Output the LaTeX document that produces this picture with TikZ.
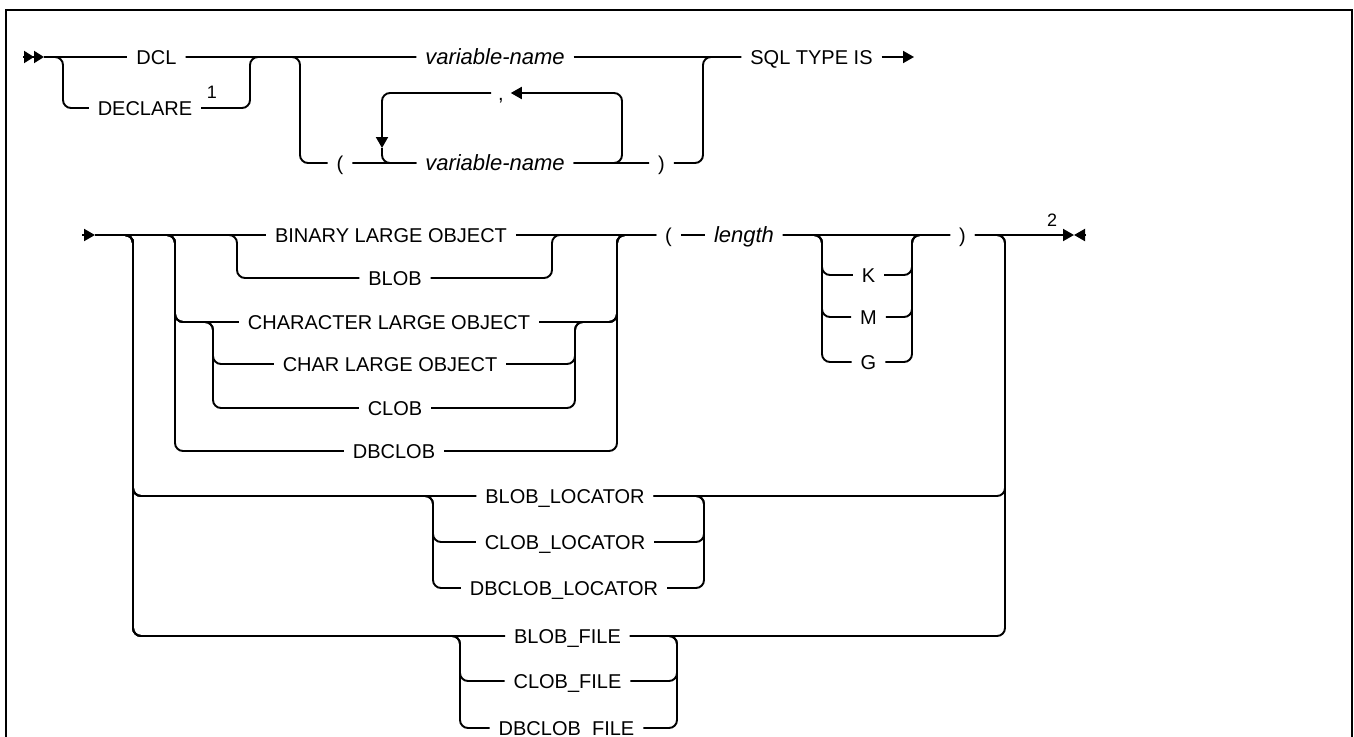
\documentclass[tikz,border=0pt]{standalone}
\usepackage{fontspec}
\setmainfont{Liberation Sans}
\usetikzlibrary{arrows.meta}

\begin{document}
\begin{tikzpicture}[x=1pt, y=-1pt,
    kw/.style={inner sep=0pt, outer xsep=9pt, outer ysep=0pt, text height=14.3pt, text depth=0pt, font=\fontsize{20}{24}\selectfont},
    var/.style={kw, font=\fontsize{22}{26}\selectfont\itshape},
    note/.style={inner sep=0pt, font=\fontsize{18}{20}\selectfont},
    rail/.style={line width=1.9pt, rounded corners=8pt},
    tip/.style={-{Triangle[length=11pt,width=12pt]}},
    tiptwo/.style={-{Triangle[length=10pt,width=12pt]Triangle[length=10pt,width=12pt]}}
]
\useasboundingbox (0,0) rectangle (1354,736);
\clip (0,0) rectangle (1354,736);
\draw[line width=2.2pt] (6,10) rectangle (1352,780);

% first line
\coordinate (s0) at (23,57);
\coordinate (s1) at (44,57);
\coordinate (e1) at (914,57);
\coordinate (ldn) at (382,148);
\node[kw]  (dcl)     at (156.5,57) {DCL};
\node[kw]  (declare) at (145,108)  {DECLARE};
\node[note] (fn1)    at (212,92)   {1};
\node[var] (var1)    at (495,57)   {variable-name};
\node[kw]  (lp1)     at (340,163)  {(};
\node[var] (var2)    at (495,163)  {variable-name};
\node[kw, outer xsep=7pt] (comma) at (501,93) {,};
\node[kw]  (rp1)     at (661.5,163) {)};
\node[kw]  (sql)     at (811.5,57) {SQL TYPE IS};

\draw[rail,tiptwo] (s0) -- (s1);
\draw[rail] (s1) -- (dcl) -- (var1) -- (sql);
\draw[rail] (s1) -| (63,108) -- (declare);
\draw[rail] (declare) -| (250,57) -- (var1);
\draw[rail] (dcl) -| (300,163) -- (lp1) -- (var2);
\draw[rail,tip] (var2) -| (622,93) -- (comma);
\draw[rail,tip] (comma) -| (ldn);
\draw[rail] (ldn) |- (var2);
\draw[rail] (var2) -- (rp1) -| (703,57) -- (sql);
\draw[rail,tip] (sql) -- (e1);

% second line
\coordinate (t0) at (82,235);
\coordinate (t1) at (95,235);
\coordinate (e2) at (1074,235);
\coordinate (e3) at (1086,235);
\node[kw]  (binary)    at (391,235) {BINARY LARGE OBJECT};
\node[kw]  (blob)      at (395,278) {BLOB};
\node[kw]  (charlob)   at (389,322) {CHARACTER LARGE OBJECT};
\node[kw]  (charlarge) at (390,364) {CHAR LARGE OBJECT};
\node[kw]  (clob)      at (395,408) {CLOB};
\node[kw]  (dbclob)    at (394,451) {DBCLOB};
\node[kw]  (lp2)       at (668.5,235) {(};
\node[var] (len)       at (744,235) {length};
\node[kw]  (rp2)       at (962.5,235) {)};
\node[kw]  (kk)        at (868.5,275) {K};
\node[kw]  (mm)        at (868.5,317) {M};
\node[kw]  (gg)        at (868.5,362) {G};
\node[note] (fn2)      at (1052,220) {2};
\node[kw]  (bloblocator)   at (565,496) {BLOB\_LOCATOR};
\node[kw]  (cloblocator)   at (565,542) {CLOB\_LOCATOR};
\node[kw]  (dbcloblocator) at (564,588) {DBCLOB\_LOCATOR};
\node[kw]  (blobfile)      at (567.5,636) {BLOB\_FILE};
\node[kw]  (clobfile)      at (567.5,681) {CLOB\_FILE};
\node[kw]  (dbclobfile)    at (566.5,728) {DBCLOB\_FILE};

\draw[rail,tip] (t0) -- (t1);
\draw[rail] (t1) -- (binary) -- (lp2) -- (len) -- (rp2);
\draw[rail,tip] (rp2) -- (e2);
\draw[rail,tip] (e3) -- (e2);

% large objects
\draw[rail] (t1) -| (237,278) -- (blob);
\draw[rail] (blob) -| (552,235) -- (lp2);
\draw[rail] (t1) -| (175,451) -- (dbclob);
\draw[rail] (t1) -| (175,322) -- (charlob);
\draw[rail] (t1) -| (175,322) -| (213,364) -- (charlarge);
\draw[rail] (t1) -| (175,322) -| (213,408) -- (clob);
\draw[rail] (charlarge) -| (575,322) -| (617,235) -- (lp2);
\draw[rail] (clob) -| (575,322) -| (617,235) -- (lp2);
\draw[rail] (charlob) -| (617,235) -- (lp2);
\draw[rail] (dbclob) -| (617,235) -- (lp2);

% units
\draw[rail] (len) -| (822,275) -- (kk);
\draw[rail] (len) -| (822,317) -- (mm);
\draw[rail] (len) -| (822,362) -- (gg);
\draw[rail] (kk) -| (912,235) -- (rp2);
\draw[rail] (mm) -| (912,235) -- (rp2);
\draw[rail] (gg) -| (912,235) -- (rp2);

% locators
\draw[rail] (t1) -| (133,496) -- (bloblocator);
\draw[rail] (t1) -| (133,496) -| (433,542) -- (cloblocator);
\draw[rail] (t1) -| (133,496) -| (433,588) -- (dbcloblocator);
\draw[rail] (bloblocator) -| (1005,235) -- (rp2);
\draw[rail] (cloblocator) -| (704,496) -- (bloblocator);
\draw[rail] (dbcloblocator) -| (704,496) -- (bloblocator);

% files
\draw[rail] (t1) -| (133,636) -- (blobfile);
\draw[rail] (t1) -| (133,636) -| (460,681) -- (clobfile);
\draw[rail] (t1) -| (133,636) -| (460,728) -- (dbclobfile);
\draw[rail] (blobfile) -| (1005,235) -- (rp2);
\draw[rail] (clobfile) -| (677,636) -- (blobfile);
\draw[rail] (dbclobfile) -| (677,636) -- (blobfile);
\end{tikzpicture}
\end{document}
